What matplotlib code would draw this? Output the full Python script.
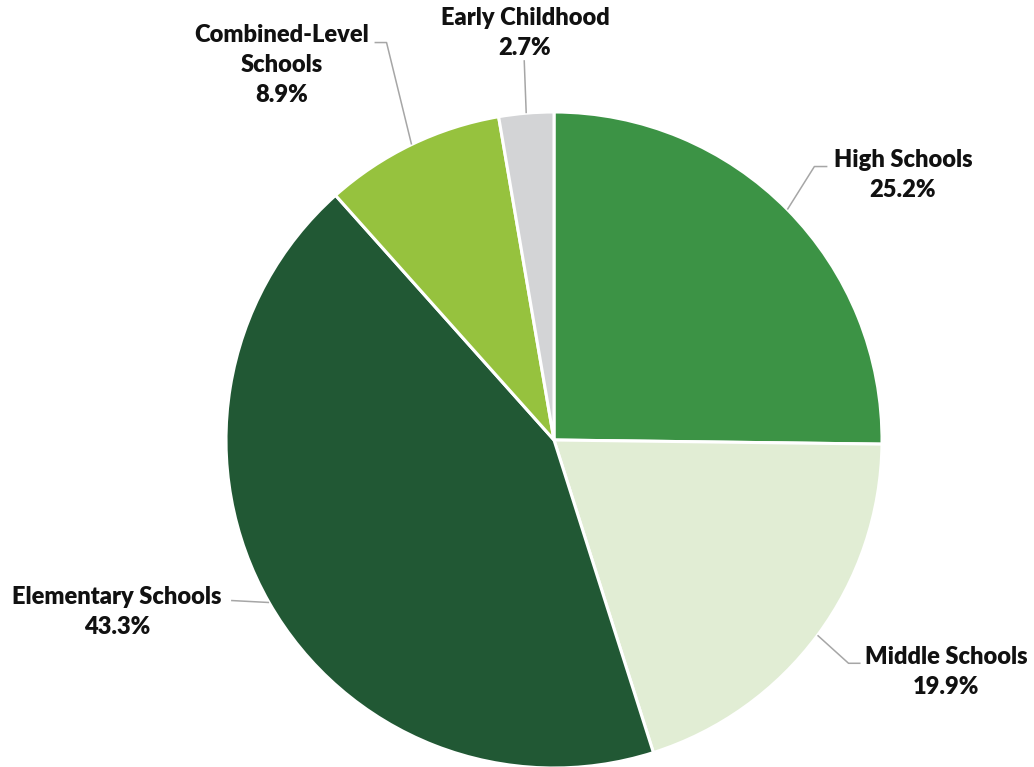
import numpy as np
import matplotlib.pyplot as plt

# school levels share (%)
labels = ['High Schools', 'Middle Schools', 'Elementary Schools',
          'Combined-Level\nSchools', 'Early Childhood']
shares = [25.2, 19.9, 43.3, 8.9, 2.7]
colors = ['#3c9345', '#e1edd4', '#215834', '#96c23e', '#d3d4d6']

W, H = 1034, 767
cx, cy, r = 554, H - 440, 328

fig = plt.figure(figsize=(W / 100, H / 100), dpi=100)
ax = fig.add_axes([0, 0, 1, 1])

wedges, _ = ax.pie(shares, colors=colors, startangle=90, counterclock=False,
                   center=(cx, cy), radius=r,
                   wedgeprops=dict(edgecolor='white', linewidth=2.2))

# pie resets the limits, so set them afterwards
ax.set_xlim(0, W)
ax.set_ylim(0, H)
ax.set_aspect('equal')
ax.axis('off')

# label layout: elbow offset from anchor, horizontal run, text position (pixels)
layout = {
    'High Schools': dict(elbow=(27, 43), run=13, text=(903, 175), ha='center'),
    'Middle Schools': dict(elbow=(31, -28), run=12, text=(946, 672), ha='center'),
    'Elementary Schools': dict(elbow=(-38, 2), run=0, text=(117, 612), ha='center'),
    'Combined-Level\nSchools': dict(elbow=(-25, 102), run=-12, text=(282, 65), ha='center'),
    'Early Childhood': dict(elbow=(-2, 53), run=0, text=(525, 33), ha='center'),
}

font = dict(family=['Lato', 'DejaVu Sans'], fontweight='heavy', fontsize=17,
            color='#111111')

for w, lab, val in zip(wedges, labels, shares):
    ang = np.deg2rad((w.theta1 + w.theta2) / 2)
    x0 = cx + r * np.cos(ang)
    y0 = cy + r * np.sin(ang)
    L = layout[lab]
    x1, y1 = x0 + L['elbow'][0], y0 + L['elbow'][1]
    x2 = x1 + L['run']
    ax.plot([x0, x1, x2], [y0, y1, y1], color='#a6a6a6', lw=1.1,
            solid_capstyle='butt', zorder=1)
    tx, ty = L['text']
    ax.text(tx, H - ty, f'{lab}\n{val}%', ha=L['ha'], va='center',
            linespacing=1.42, **font)

fig.savefig('out.png', dpi=100)
